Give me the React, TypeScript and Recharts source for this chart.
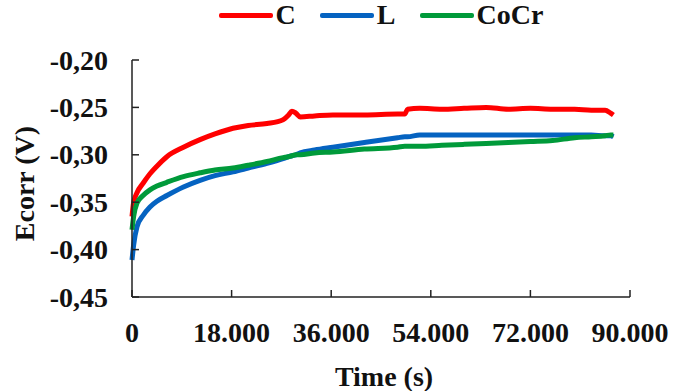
import { LineChart, Line, XAxis, YAxis, Label } from 'recharts';

// time in seconds
const times = [
  0, 300, 900, 2000, 3250, 4500, 6300, 9300, 12300, 15000, 18250, 21000, 24400, 27300, 28300, 28900,
  29600, 30400, 33000, 36300, 42000, 48000, 49300, 49800, 52000, 56000, 60000, 64000, 68000, 72000,
  76000, 80000, 83000, 85500, 86500, 87000,
];

const cValues = [
  -0.365, -0.35, -0.34, -0.33, -0.32, -0.312, -0.302, -0.292, -0.284, -0.278, -0.272, -0.269, -0.267,
  -0.263, -0.258, -0.254, -0.256, -0.26, -0.259, -0.258, -0.258, -0.257, -0.257, -0.252, -0.251, -0.252,
  -0.251, -0.25, -0.252, -0.251, -0.252, -0.252, -0.253, -0.253, -0.256, -0.258,
];

const lValues = [
  -0.411, -0.395, -0.376, -0.364, -0.355, -0.349, -0.343, -0.334, -0.327, -0.322, -0.318, -0.314, -0.309,
  -0.304, -0.302, -0.301, -0.3, -0.298, -0.295, -0.292, -0.287, -0.282, -0.281, -0.281, -0.279, -0.279,
  -0.279, -0.279, -0.279, -0.279, -0.279, -0.279, -0.279, -0.28, -0.28, -0.281,
];

const coCrValues = [
  -0.379, -0.365, -0.351, -0.343, -0.337, -0.333, -0.329, -0.323, -0.319, -0.316, -0.314, -0.311, -0.307,
  -0.303, -0.302, -0.301, -0.3, -0.3, -0.298, -0.297, -0.294, -0.292, -0.291, -0.291, -0.291, -0.29,
  -0.289, -0.288, -0.287, -0.286, -0.285, -0.282, -0.281, -0.28, -0.279, -0.279,
];

const xTicks = [0, 18000, 36000, 54000, 72000, 90000];
const yTicks = [-0.45, -0.4, -0.35, -0.3, -0.25, -0.2];

const SERIES = [
  { key: 'C', color: '#ff0000' },
  { key: 'L', color: '#0563c1' },
  { key: 'CoCr', color: '#009a3a' },
];

const data = times.map((t, i) => ({ t, C: cValues[i], L: lValues[i], CoCr: coCrValues[i] }));

const FONT = "'Liberation Serif'";
const AXIS_COLOR = '#222';
const TICK_LEN = 7;
const Y_MARGIN = 24;
const textStyle = { fontFamily: FONT, fontWeight: 700, fontSize: 28 };

const fmtX = (v: number) => (v === 0 ? '0' : `${Math.floor(v / 1000)}.${String(v % 1000).padStart(3, '0')}`);
const fmtY = (v: number) => v.toFixed(2).replace('.', ',');

const YTick = (props: any) => {
  const { x, y, payload } = props;
  const axisX = x + Y_MARGIN;
  return (
    <g>
      <line x1={axisX} y1={y} x2={axisX + TICK_LEN} y2={y} stroke={AXIS_COLOR} strokeWidth={1.5} />
      <text x={x} y={y} dy="0.34em" textAnchor="end" style={textStyle} fill="#111">
        {fmtY(payload.value)}
      </text>
    </g>
  );
};

const XTick = (props: any) => {
  const { x, y, payload } = props;
  return (
    <g>
      <line x1={x} y1={y} x2={x} y2={y - TICK_LEN} stroke={AXIS_COLOR} strokeWidth={1.5} />
      <text x={x} y={y + 45} textAnchor="middle" style={textStyle} fill="#111">
        {fmtX(payload.value)}
      </text>
    </g>
  );
};

export default function App() {
  return (
    <div style={{ position: 'relative', width: 673, height: 391, background: '#fff' }}>
      <style>{'body{margin:0}'}</style>
      <div
        style={{
          position: 'absolute',
          left: 132,
          top: 0,
          width: 498,
          height: 30,
          display: 'flex',
          justifyContent: 'center',
          alignItems: 'center',
          gap: 24,
          ...textStyle,
          color: '#111',
          zIndex: 2,
        }}
      >
        {SERIES.map((s) => (
          <div key={s.key} style={{ display: 'flex', alignItems: 'center', gap: 3 }}>
            <div style={{ width: 54, height: 5, background: s.color, borderRadius: 2 }} />
            <span style={{ lineHeight: '28px' }}>{s.key}</span>
          </div>
        ))}
      </div>
      <LineChart width={673} height={391} data={data} margin={{ top: 60, right: 43, left: 0, bottom: 0 }}>
        <XAxis
          dataKey="t"
          type="number"
          domain={[0, 90000]}
          ticks={xTicks}
          interval={0}
          height={94}
          tickSize={0}
          tickMargin={0}
          tickLine={false}
          tick={<XTick />}
          axisLine={{ stroke: AXIS_COLOR, strokeWidth: 1.5 }}
        >
          <Label
            content={({ viewBox }: any) => (
              <text
                x={viewBox.x + viewBox.width / 2 + 3}
                y={viewBox.y + 79}
                dy="0.34em"
                textAnchor="middle"
                style={textStyle}
                fill="#111"
              >
                Time (s)
              </text>
            )}
          />
        </XAxis>
        <YAxis
          type="number"
          domain={[-0.45, -0.2]}
          ticks={yTicks}
          interval={0}
          width={132}
          tickSize={0}
          tickMargin={Y_MARGIN}
          tickLine={false}
          tick={<YTick />}
          axisLine={{ stroke: AXIS_COLOR, strokeWidth: 1.5 }}
        >
          <Label
            content={({ viewBox }: any) => {
              const cx = viewBox.x + 24;
              const cy = viewBox.y + viewBox.height / 2 + 5;
              return (
                <text
                  x={cx}
                  y={cy}
                  dy="0.34em"
                  transform={`rotate(-90 ${cx} ${cy})`}
                  textAnchor="middle"
                  style={textStyle}
                  fill="#111"
                >
                  Ecorr (V)
                </text>
              );
            }}
          />
        </YAxis>
        {SERIES.map((s) => (
          <Line
            key={s.key}
            dataKey={s.key}
            type="monotone"
            stroke={s.color}
            strokeWidth={5}
            dot={false}
            isAnimationActive={false}
          />
        ))}
      </LineChart>
    </div>
  );
}
